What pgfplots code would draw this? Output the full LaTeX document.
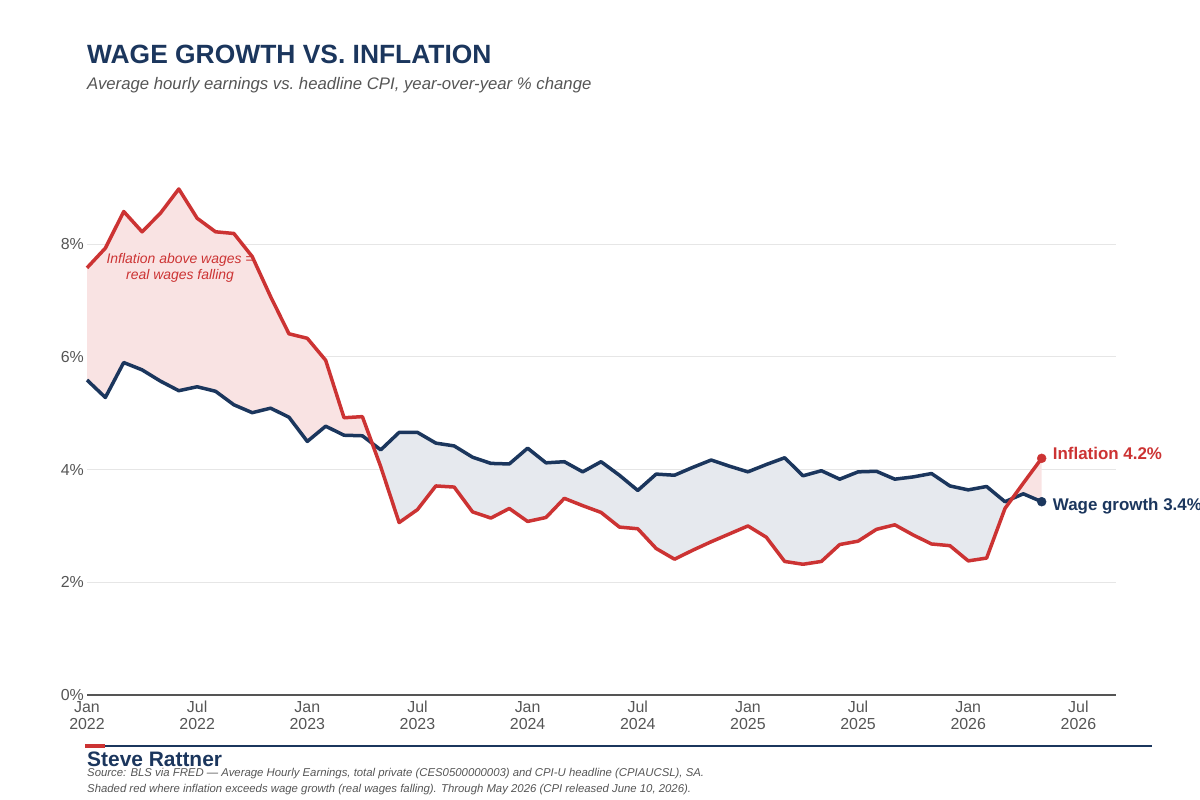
\documentclass[border=0pt]{standalone}
\usepackage{fontspec}
\setmainfont{Liberation Sans}
\usepackage{pgfplots}
\pgfplotsset{compat=1.18}
\usepgfplotslibrary{fillbetween}
\definecolor{infl}{HTML}{CC3333}
\definecolor{navy}{HTML}{1B365D}
\definecolor{pinkfill}{HTML}{F9E3E3}
\definecolor{greyfill}{HTML}{E6E9EE}
\definecolor{tickgrey}{HTML}{555555}
\definecolor{subgrey}{HTML}{555555}
\definecolor{gridgrey}{HTML}{E6E6E6}
\definecolor{axisgrey}{HTML}{555555}

\pgfplotstableread{
m v
0 7.58
1 7.93
2 8.58
3 8.22
4 8.55
5 8.98
6 8.46
7 8.22
8 8.19
9 7.78
10 7.07
11 6.41
12 6.33
13 5.94
14 4.92
15 4.94
16 4.05
17 3.06
18 3.29
19 3.71
20 3.69
21 3.25
22 3.14
23 3.31
24 3.08
25 3.15
26 3.49
27 3.36
28 3.24
29 2.98
30 2.95
31 2.60
32 2.41
33 2.57
34 2.72
35 2.86
36 3.00
37 2.80
38 2.37
39 2.32
40 2.37
41 2.67
42 2.73
43 2.94
44 3.02
45 2.84
46 2.68
47 2.65
48 2.38
49 2.43
50 3.31
51 3.76
52 4.20
}\inflation

\pgfplotstableread{
m v
0 5.59
1 5.28
2 5.90
3 5.77
4 5.57
5 5.40
6 5.47
7 5.39
8 5.15
9 5.01
10 5.09
11 4.93
12 4.50
13 4.77
14 4.61
15 4.60
16 4.35
17 4.66
18 4.66
19 4.47
20 4.42
21 4.22
22 4.11
23 4.10
24 4.38
25 4.12
26 4.14
27 3.96
28 4.14
29 3.90
30 3.63
31 3.92
32 3.90
33 4.04
34 4.17
35 4.06
36 3.96
37 4.09
38 4.21
39 3.89
40 3.98
41 3.83
42 3.96
43 3.97
44 3.83
45 3.87
46 3.93
47 3.71
48 3.64
49 3.70
50 3.43
51 3.57
52 3.43
}\wages

\begin{document}
\begin{tikzpicture}
\begin{axis}[
  at={(87bp,105bp)}, anchor=south west,
  scale only axis, width=1029bp, height=563.5bp,
  xmin=0, xmax=56.05, ymin=0, ymax=10,
  clip=false,
  axis x line*=bottom, axis y line*=left,
  y axis line style={draw=none},
  x axis line style={draw=axisgrey, line width=1.5bp, -},
  tick style={draw=none},
  xtick={0,6,12,18,24,30,36,42,48,54},
  xticklabels={Jan\\2022,Jul\\2022,Jan\\2023,Jul\\2023,Jan\\2024,Jul\\2024,Jan\\2025,Jul\\2025,Jan\\2026,Jul\\2026},
  xticklabel style={align=center, font=\fontsize{16}{17}\selectfont, text=tickgrey, inner sep=2bp, yshift=-4bp},
  ytick={0,2,4,6,8},
  yticklabels={0\%,2\%,4\%,6\%,8\%},
  yticklabel style={font=\fontsize{16}{18}\selectfont, text=tickgrey, inner sep=3bp},
  ymajorgrids, grid style={gridgrey, line width=1bp},
]
\addplot[draw=none, name path=inflp, forget plot] table[x=m,y=v] {\inflation};
\addplot[draw=none, name path=wagep, forget plot] table[x=m,y=v] {\wages};
\addplot[draw=none, forget plot] fill between[of=inflp and wagep, split,
  every segment no 0/.style={fill=pinkfill},
  every segment no 1/.style={fill=greyfill},
  every segment no 2/.style={fill=pinkfill}];
\addplot[navy, line width=3.5bp, line join=round, no marks] table[x=m,y=v] {\wages};
\addplot[infl, line width=3.5bp, line join=round, no marks] table[x=m,y=v] {\inflation};
\addplot[only marks, mark=*, mark size=4.5bp, color=infl] coordinates {(52,4.20)};
\addplot[only marks, mark=*, mark size=4.5bp, color=navy] coordinates {(52,3.43)};
\node[anchor=west, inner sep=0, xshift=11bp, text=infl, font=\bfseries\fontsize{17}{20}\selectfont] at (axis cs:52,4.29) {Inflation 4.2\%};
\node[anchor=west, inner sep=0, xshift=11bp, text=navy, font=\bfseries\fontsize{17}{20}\selectfont] at (axis cs:52,3.35) {Wage growth 3.4\%};
\node[align=center, text=infl, font=\itshape\fontsize{14}{15.5}\selectfont] at (axis cs:5.07,7.58) {Inflation above wages =\\real wages falling};
\end{axis}
\node[anchor=base west, inner sep=0, text=navy, font=\bfseries\fontsize{26.5}{29}\selectfont] at (87bp,736bp) {WAGE GROWTH VS.\ INFLATION};
\node[anchor=base west, inner sep=0, text=subgrey, font=\itshape\fontsize{16.8}{20}\selectfont] at (87bp,710bp) {Average hourly earnings vs.\ headline CPI, year-over-year \% change};
\draw[navy, line width=1.3bp] (85bp,54bp) -- (1152bp,54bp);
\draw[infl, line width=4bp] (85bp,54bp) -- (105bp,54bp);
\node[anchor=base west, inner sep=0, text=navy, font=\bfseries\fontsize{21}{23}\selectfont] at (87bp,34bp) {Steve Rattner};
\node[anchor=base west, inner sep=0, text=subgrey, font=\itshape\fontsize{11.4}{13}\selectfont] at (87bp,24bp) {Source: BLS via FRED — Average Hourly Earnings, total private (CES0500000003) and CPI-U headline (CPIAUCSL), SA.};
\node[anchor=base west, inner sep=0, text=subgrey, font=\itshape\fontsize{11.4}{13}\selectfont] at (87bp,8bp) {Shaded red where inflation exceeds wage growth (real wages falling). Through May 2026 (CPI released June 10, 2026).};
\pgfresetboundingbox
\path[use as bounding box] (0bp,0bp) rectangle (1200bp,800bp);
\end{tikzpicture}
\end{document}
